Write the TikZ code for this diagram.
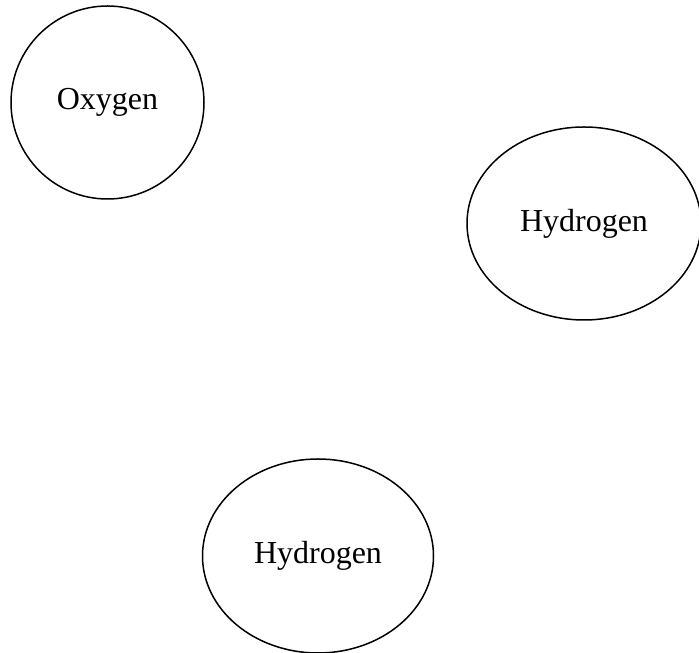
\documentclass[tikz,border=0pt]{standalone}
\usepackage{fontspec}
\setmainfont{Liberation Serif}
\usetikzlibrary{shapes.geometric}
\begin{document}
\begin{tikzpicture}[x=1pt,y=1pt,
  atom/.style={draw, ellipse, line width=1.5pt, inner sep=0pt,
    font=\fontsize{32}{38}\selectfont}]
\useasboundingbox (0,0) rectangle (699,653);
\node[atom, minimum width=193, minimum height=193] (oxy) at (107.5,550.5) {Oxygen};
\node[atom, minimum width=234, minimum height=193] (h1) at (584,429.5) {Hydrogen};
\node[atom, minimum width=231, minimum height=194] (h2) at (318,97) {Hydrogen};
\end{tikzpicture}
\end{document}
